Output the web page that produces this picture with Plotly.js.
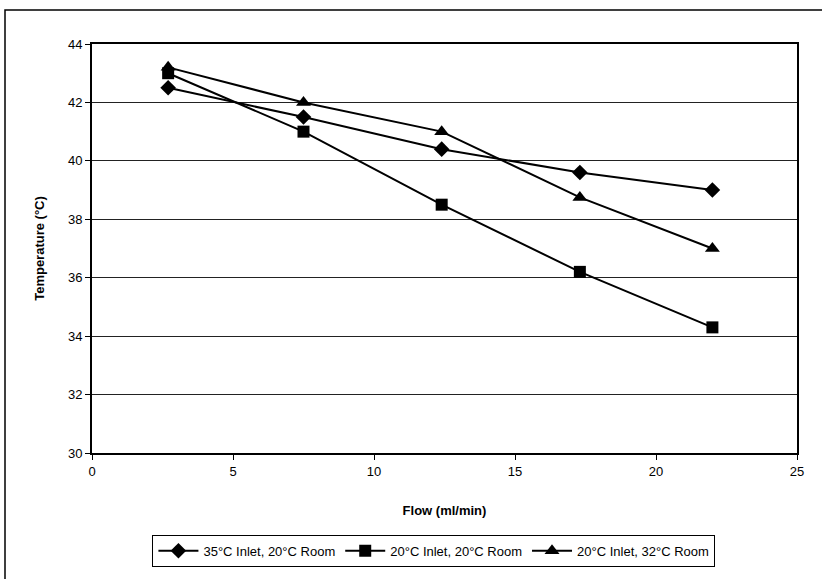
<!DOCTYPE html>
<html>
<head>
<meta charset="utf-8">
<script src="https://cdn.plot.ly/plotly-3.0.1.min.js"></script>
<style>html,body{margin:0;padding:0;background:#fff;}#chart{width:822px;height:579px;}</style>
</head>
<body>
<div id="chart"></div>
<script>
const flow = [2.7, 7.5, 12.4, 17.3, 22];
const s1Name = "35°C Inlet, 20°C Room";
const s1 = [42.5, 41.5, 40.4, 39.6, 39.0];
const s2Name = "20°C Inlet, 20°C Room";
const s2 = [43.0, 41.0, 38.5, 36.2, 34.3];
const s3Name = "20°C Inlet, 32°C Room";
const s3 = [43.2, 42.0, 41.0, 38.75, 37.0];

const line = {color: "#000", width: 2};
const traces = [
  {x: flow, y: s1, name: s1Name, mode: "lines+markers", line: line,
   marker: {symbol: "diamond", size: 12, color: "#000"}},
  {x: flow, y: s2, name: s2Name, mode: "lines+markers", line: line,
   marker: {symbol: "square", size: 12, color: "#000"}},
  {x: flow, y: s3, name: s3Name, mode: "lines+markers", line: line,
   marker: {symbol: "triangle-up", size: 13, color: "#000"}}
];

const layout = {
  width: 822, height: 579,
  margin: {l: 92, r: 25, t: 44, b: 126},
  paper_bgcolor: "#fff", plot_bgcolor: "#fff",
  font: {family: "Liberation Sans, Arial, sans-serif", size: 13, color: "#000"},
  showlegend: true,
  legend: {orientation: "h", x: 0.485, xanchor: "center", y: -0.2, yanchor: "top",
           bordercolor: "#000", borderwidth: 1, font: {size: 13},
           itemwidth: 40, tracegroupgap: 0},
  xaxis: {range: [0, 25], dtick: 5, tick0: 0, showgrid: false, zeroline: false,
          showline: true, linecolor: "#000", linewidth: 2, mirror: true,
          ticks: "outside", ticklen: 5, tickcolor: "#000",
          title: {text: "<b>Flow (ml/min)</b>", font: {size: 13}, standoff: 28}},
  yaxis: {range: [30, 44], dtick: 2, tick0: 30, showgrid: true, gridcolor: "#222", gridwidth: 1,
          zeroline: false, showline: true, linecolor: "#000", linewidth: 2, mirror: true,
          ticks: "outside", ticklen: 5, tickcolor: "#000",
          title: {text: "<b>Temperature (°C)</b>", font: {size: 13}, standoff: 20}},
  shapes: [
    {type: "rect", xref: "paper", yref: "paper",
     x0: (5 - 92) / 705, x1: (830 - 92) / 705,
     y0: (453 - 590) / 409, y1: (453 - 10) / 409,
     line: {color: "#000", width: 1.5}, fillcolor: "rgba(0,0,0,0)", layer: "below"}
  ]
};

Plotly.newPlot("chart", traces, layout, {displayModeBar: false, staticPlot: true});
</script>
</body>
</html>
